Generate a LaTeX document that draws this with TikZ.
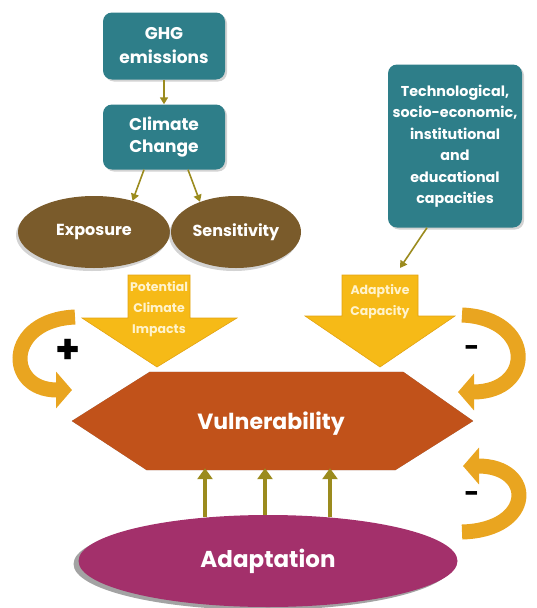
\documentclass[tikz,border=0pt]{standalone}
\usepackage{fontspec}
\setmainfont{Poppins}
\usetikzlibrary{arrows.meta,calc,shadows,shapes.geometric}
\definecolor{tealc}{HTML}{2E7E89}
\definecolor{brownc}{HTML}{7A5B2B}
\definecolor{yellowc}{HTML}{F6BA17}
\definecolor{yellowd}{HTML}{E3A312}
\definecolor{creamc}{HTML}{FFF3CC}
\definecolor{hexc}{HTML}{C1521A}
\definecolor{magc}{HTML}{A3306B}
\definecolor{goldc}{HTML}{E9A520}
\definecolor{olivec}{HTML}{9B8B1E}
\begin{document}
\begin{tikzpicture}[x=1pt,y=-1pt]
\tikzset{
 tealbox/.style={rectangle, rounded corners=9pt, fill=tealc, text=white, align=center, inner sep=0pt,
   drop shadow={opacity=0.35,shadow xshift=2pt,shadow yshift=-2pt}},
 brownell/.style={ellipse, fill=brownc, text=white, inner sep=0pt,
   drop shadow={opacity=0.35,shadow xshift=-2pt,shadow yshift=-3pt},
   font=\bfseries\fontsize{16}{18}\selectfont},
 smallarr/.style={draw=olivec, line width=1.6pt, -{Triangle[length=7pt,width=8pt]}},
 bigarr/.style={fill=yellowc, draw=yellowd, line width=0.6pt},
 yeltext/.style={text=creamc, align=center, font=\bfseries\fontsize{12.5}{21}\selectfont},
 curvarr/.style={draw=goldc, line width=15pt, -{Triangle[length=16pt,width=36pt]}},
 uparr/.style={draw=olivec, line width=4pt, -{Triangle[length=11pt,width=15pt]}},
 signtext/.style={text=black, font=\bfseries\fontsize{26}{28}\selectfont},
}
\useasboundingbox (0,0) rectangle (537,608);

% top boxes
\node[tealbox, minimum width=122pt, minimum height=67pt, font=\bfseries\fontsize{17}{24}\selectfont] (ghg) at (164,46) {GHG\\emissions};
\node[tealbox, minimum width=122pt, minimum height=65pt, font=\bfseries\fontsize{17}{22}\selectfont] (cc) at (164,137) {Climate\\Change};
\node[tealbox, minimum width=134pt, minimum height=163pt, font=\bfseries\fontsize{14.3}{21.5}\selectfont] (tech) at (455,146)
 {Technological,\\socio-economic,\\institutional\\and\\educational\\capacities};

\node[brownell, minimum width=152pt, minimum height=72pt] (exp) at (94,232) {Exposure};
\node[brownell, minimum width=130pt, minimum height=72pt] (sen) at (236,232) {Sensitivity};

\draw[smallarr] (ghg.south) -- (cc.north);
\draw[smallarr] ($(cc.south)+(-20,0)$) -- (exp.39);
\draw[smallarr] ($(cc.south)+(24,0)$) -- (sen.140);

% big yellow arrows
\coordinate (pciTop) at (159,275);
\coordinate (acTop) at (380,275);
\draw[bigarr] (128,275) -- (190,275) -- (190,318) -- (237,318) -- (157,367) -- (82,318) -- (128,318) -- cycle;
\draw[bigarr] (342,275) -- (418,275) -- (418,316) -- (455,316) -- (380,367) -- (305,316) -- (342,316) -- cycle;
\node[yeltext] (pci) at (159,309) {Potential\\Climate\\Impacts};
\node[yeltext] (ac) at (380,302) {Adaptive\\Capacity};
\draw[smallarr] ($(tech.south)+(-28,0)$) -- ($(acTop)+(20,-7)$);

% vulnerability hexagon
\node[minimum width=401pt, minimum height=98pt, inner sep=0pt] (vul) at (272.5,421) {};
\fill[black!55, opacity=0.8, xshift=-4pt, yshift=-4pt] (vul.west) -- ($(vul.north west)+(78,0)$) -- ($(vul.north east)+(-70,0)$) -- (vul.east) -- ($(vul.south east)+(-78,0)$) -- ($(vul.south west)+(75,0)$) -- cycle;
\fill[hexc] (vul.west) -- ($(vul.north west)+(78,0)$) -- ($(vul.north east)+(-70,0)$) -- (vul.east) -- ($(vul.south east)+(-78,0)$) -- ($(vul.south west)+(75,0)$) -- cycle;
\node[text=white, font=\bfseries\fontsize{22}{24}\selectfont] (vullabel) at (271,424) {Vulnerability};

% adaptation
\node[ellipse, minimum width=379pt, minimum height=92pt, inner sep=0pt] (ada) at (268,561) {};
\draw[uparr] ($(ada.north)+(-63,2)$) -- ($(vul.south)+(-67.5,-2)$);
\draw[uparr] ($(ada.north)+(-3,2)$) -- ($(vul.south)+(-7.5,-2)$);
\draw[uparr] ($(ada.north)+(62,2)$) -- ($(vul.south)+(57.5,-2)$);
\fill[black!45, opacity=0.8] ($(ada)+(-5,3)$) ellipse[x radius=189.5pt, y radius=46pt];
\node[ellipse, fill=magc, minimum width=379pt, minimum height=92pt, inner sep=0pt, text=white,
  font=\bfseries\fontsize{23}{26}\selectfont] (adalabel) at (ada) {Adaptation};

% curved feedback arrows
\coordinate (l1) at (75,317);
\coordinate (l2) at (72,390);
\coordinate (r1) at (462,315);
\coordinate (r2) at (458,392);
\coordinate (b1) at (462,532);
\coordinate (b2) at (463,466);
\draw[curvarr] (l1) .. controls (5,320) and (5,390) .. (l2);
\draw[curvarr] (r1) .. controls (535,318) and (535,392) .. (r2);
\draw[curvarr] (b1) .. controls (535,530) and (535,466) .. (b2);

\node[signtext, font=\bfseries\fontsize{40}{42}\selectfont] (plus) at (68,351) {+};
\node[signtext] (minus1) at (472,351) {-};
\node[signtext] (minus2) at (472,497) {-};
\end{tikzpicture}
\end{document}
